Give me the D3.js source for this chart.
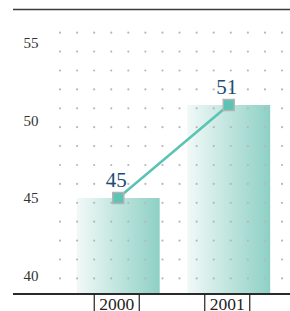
<!DOCTYPE html>
<html><head><meta charset="utf-8">
<script src="https://cdn.jsdelivr.net/npm/d3@7"></script>
<style>html,body{margin:0;padding:0;background:#fff;}svg{display:block;}</style>
</head><body>
<svg id="c" width="290" height="311"></svg>
<script>
const categories = ["2000", "2001"];
const values = [45, 51];
const yTicks = [40, 45, 50, 55];

(function () {
const W = 290, H = 311;
const mLeft = 13, mRight = 290, mTop = 9.5, mBottom = 294;
const FONT = "'Liberation Serif', 'Times New Roman', serif";
const svg = d3.select("#c");

const x = d3.scaleBand().domain(categories).range([63, 284]).padding(0);
const y = d3.scaleLinear().domain([40, 55]).range([275.5, 43]);

const defs = svg.append("defs");
const g = defs.append("linearGradient").attr("id", "bg").attr("x1", "0").attr("x2", "1").attr("y1", "0").attr("y2", "0");
g.append("stop").attr("offset", "0").attr("stop-color", "#f1f9f7");
g.append("stop").attr("offset", "1").attr("stop-color", "#8ed0c5");

// bars
const bw = x.bandwidth() * 0.75;
svg.selectAll("rect.bar").data(values).join("rect")
  .attr("class", "bar")
  .attr("x", (d, i) => x(categories[i]) + x.bandwidth() / 2 - bw / 2)
  .attr("width", bw)
  .attr("y", d => y(d))
  .attr("height", d => mBottom - y(d))
  .attr("fill", "url(#bg)");

// dot grid
const cols = d3.range(14).map(k => 60 + k * 17.08);
const rows = d3.range(14).map(k => 32.7 + k * 18.9);
const dots = [];
rows.forEach(r => cols.forEach(c => dots.push([c, r])));
svg.append("g").selectAll("circle").data(dots).join("circle")
  .attr("cx", d => d[0]).attr("cy", d => d[1]).attr("r", 1.1).attr("fill", "#b8b8b8");

// frame lines
svg.append("line").attr("x1", mLeft).attr("x2", mRight).attr("y1", mTop).attr("y2", mTop)
  .attr("stroke", "#3a3a3a").attr("stroke-width", 1.6);
svg.append("line").attr("x1", mLeft).attr("x2", mRight).attr("y1", mBottom).attr("y2", mBottom)
  .attr("stroke", "#2a2a2a").attr("stroke-width", 1.8);

// y labels
svg.append("g").selectAll("text").data(yTicks).join("text")
  .attr("x", 38.5).attr("y", d => y(d)).attr("dy", "0.35em")
  .attr("text-anchor", "end")
  .style("font-family", FONT).attr("font-size", 15)
  .attr("fill", "#333").text(d => d);

// x labels with boxes
const xg = svg.append("g").selectAll("g").data(categories).join("g")
  .attr("transform", d => `translate(${x(d) + x.bandwidth() / 2 - 1.5},0)`);
xg.append("text").attr("x", 0).attr("y", 309.5).attr("text-anchor", "middle")
  .style("font-family", FONT).attr("font-size", 17.5)
  .attr("fill", "#222").text(d => d);
[-22.5, 22.5].forEach(o => {
  xg.append("line").attr("x1", o).attr("x2", o).attr("y1", mBottom).attr("y2", H)
    .attr("stroke", "#222").attr("stroke-width", 1.2);
});

// line
const cx = (d, i) => x(categories[i]) + x.bandwidth() / 2;
const line = d3.line().x((d, i) => cx(d, i)).y(d => y(d));
svg.append("path").datum(values).attr("d", line)
  .attr("fill", "none").attr("stroke", "#5ac3b4").attr("stroke-width", 2.5);

// markers
svg.append("g").selectAll("rect").data(values).join("rect")
  .attr("x", (d, i) => cx(d, i) - 5.5).attr("y", d => y(d) - 5.5)
  .attr("width", 11).attr("height", 11)
  .attr("fill", "#5cc4b5").attr("stroke", "#b3b3b3").attr("stroke-width", 1.5);

// value labels
svg.append("g").selectAll("text").data(values).join("text")
  .attr("x", (d, i) => cx(d, i) - 2).attr("y", d => y(d) - 11)
  .attr("text-anchor", "middle")
  .style("font-family", FONT).attr("font-size", 21)
  .attr("fill", "#1b4d70").text(d => d);
})();
</script>
</body></html>
